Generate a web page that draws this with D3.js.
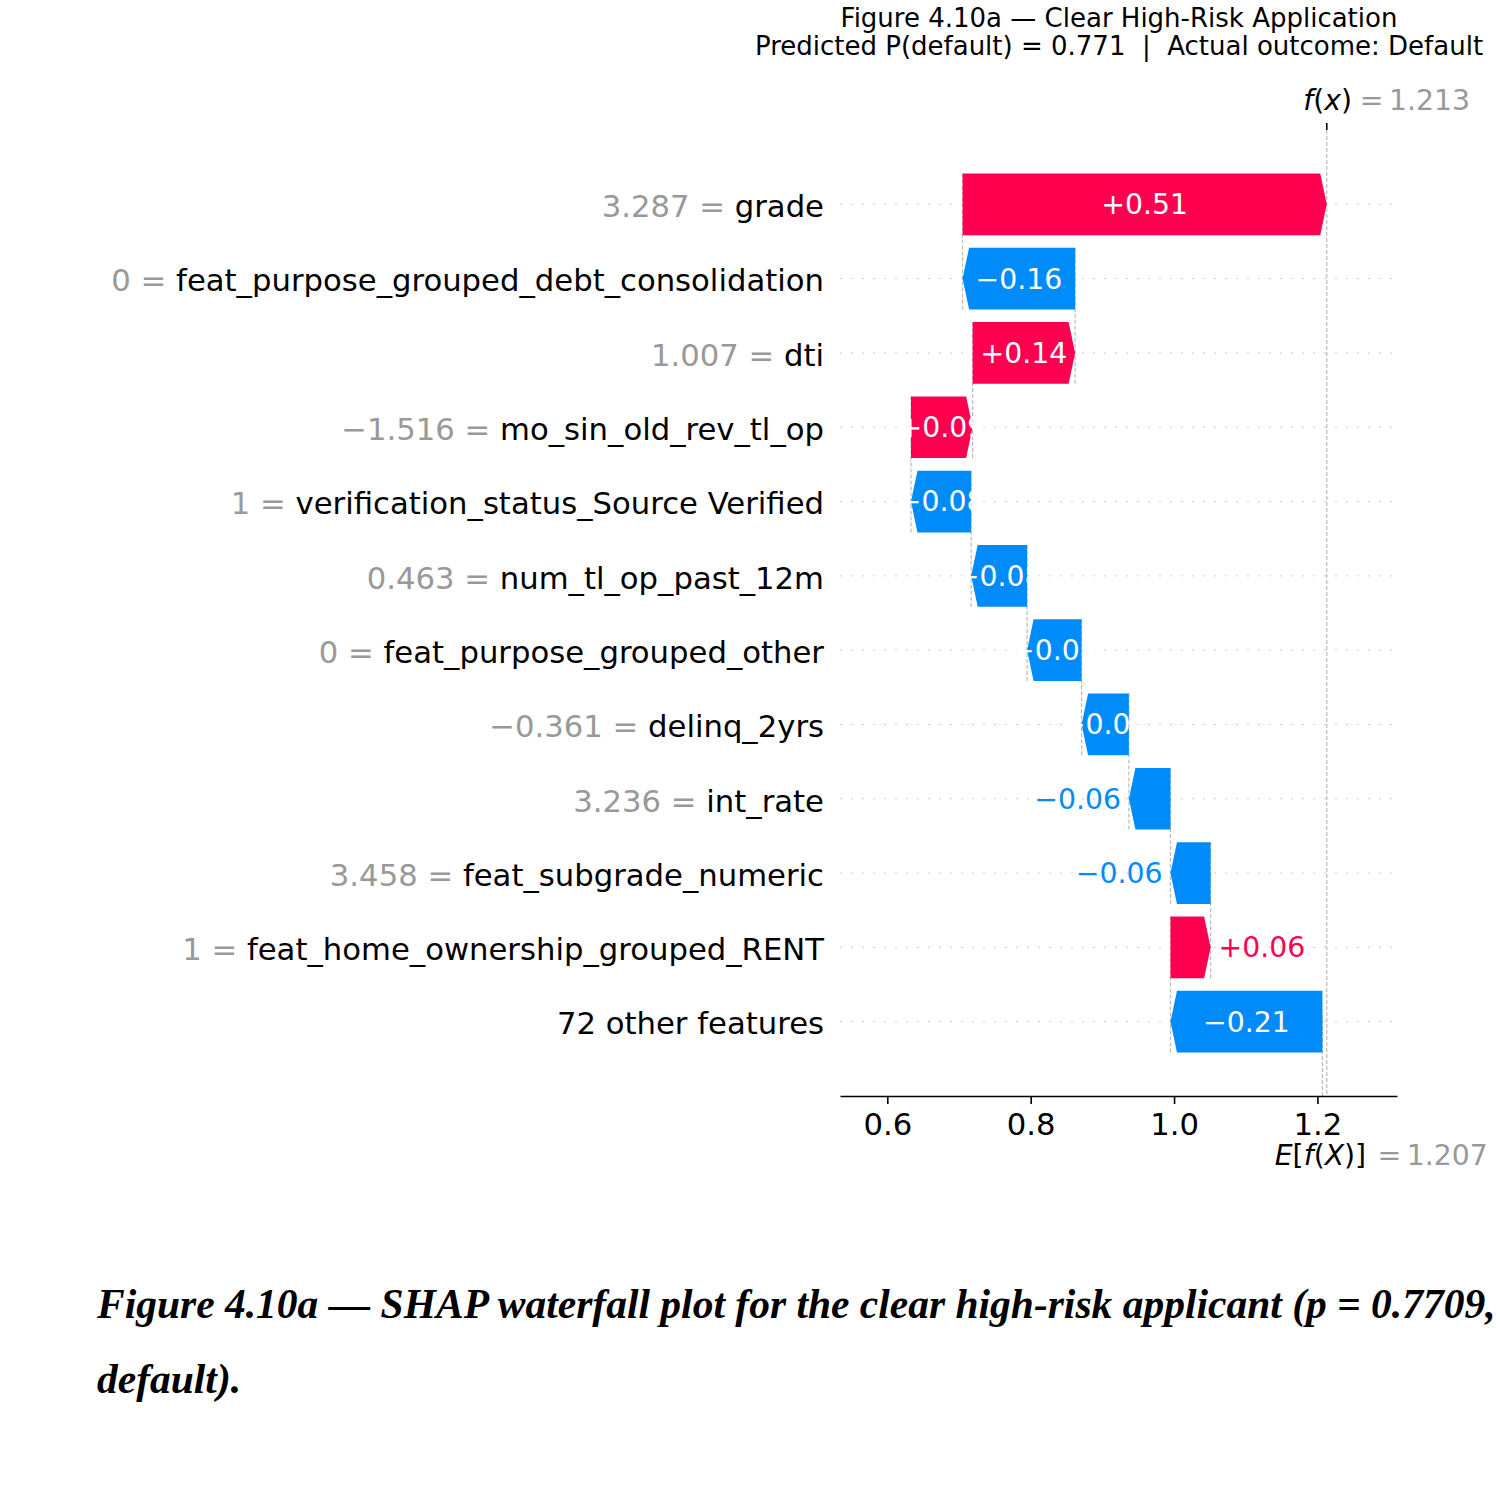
<!DOCTYPE html>
<html>
<head>
<meta charset="utf-8">
<script src="https://cdn.jsdelivr.net/npm/d3@7"></script>
<style>
    body { margin: 0; background: #fff; }
    svg text { font-family: "DejaVu Sans", sans-serif; }
    .caption { font-family: "Liberation Serif", "Times New Roman", serif; font-weight: bold; font-style: italic; }
</style>
</head>
<body>
<div id="shap-waterfall"></div>
<script>

// rows from top to bottom, as shap lists them
const featureNames = ["grade", "feat_purpose_grouped_debt_consolidation", "dti", "mo_sin_old_rev_tl_op",
    "verification_status_Source Verified", "num_tl_op_past_12m", "feat_purpose_grouped_other", "delinq_2yrs",
    "int_rate", "feat_subgrade_numeric", "feat_home_ownership_grouped_RENT", "72 other features"];
const featureValues = ["3.287", "0", "1.007", "\u22121.516", "1", "0.463", "0", "\u22120.361", "3.236", "3.458", "1", ""];
const shapValues = [0.508, -0.157, 0.143, 0.086, -0.084, -0.078, -0.076, -0.066, -0.058, -0.056, 0.056, -0.212];
const baseValue = 1.207;
const xTicks = [0.6, 0.8, 1.0, 1.2];
const titleLines = ["Figure 4.10a \u2014 Clear High-Risk Application",
    "Predicted P(default) = 0.771  |  Actual outcome: Default"];
const captionLines = ["Figure 4.10a \u2014 SHAP waterfall plot for the clear high-risk applicant (p = 0.7709,",
    "default)."];

const RED = "#ff0051", BLUE = "#008bfb";

class Waterfall {

    constructor(_parentElement) {
        this.parentElement = _parentElement;
        this.initVis();
    }

    initVis() {
        let vis = this;

        vis.margin = {top: 130, right: 103, bottom: 414, left: 840};
        vis.width = 1500 - vis.margin.left - vis.margin.right;
        vis.height = 1510 - vis.margin.top - vis.margin.bottom;

        vis.root = d3.select("#" + vis.parentElement).append("svg")
            .attr("width", 1500)
            .attr("height", 1510);

        vis.svg = vis.root.append("g")
            .attr("transform", `translate(${vis.margin.left}, ${vis.margin.top})`);

        // x in shap units, y in row units (0 = top row)
        vis.x = d3.scaleLinear()
            .domain([0.534, 1.311])
            .range([0, vis.width]);

        vis.y = d3.scaleLinear()
            .domain([-1, featureNames.length])
            .range([0, vis.height]);

        vis.rowH = vis.y(1) - vis.y(0);
        vis.barHalf = vis.rowH * 0.415;
        vis.headLen = 6.5;

        // titles
        vis.root.selectAll(".title")
            .data(titleLines)
            .enter()
            .append("text")
            .attr("class", "title")
            .attr("x", 1119)
            .attr("y", (d, i) => 27 + i * 28)
            .attr("text-anchor", "middle")
            .attr("font-size", 26)
            .style("white-space", "pre")
            .text(d => d);

        // caption under the figure
        vis.root.selectAll(".caption")
            .data(captionLines)
            .enter()
            .append("text")
            .attr("class", "caption")
            .attr("x", 97)
            .attr("y", (d, i) => 1318 + i * 75)
            .attr("font-size", 41.5)
            .text(d => d);

        vis.wrangleData();
    }

    wrangleData() {
        let vis = this;

        // walk up from the base value, bottom row first
        vis.displayData = [];
        let loc = baseValue;
        for (let i = shapValues.length - 1; i >= 0; i--) {
            let v = shapValues[i];
            vis.displayData[i] = {
                row: i,
                name: featureNames[i],
                value: featureValues[i],
                shap: v,
                start: loc,
                end: loc + v
            };
            loc += v;
        }
        vis.fx = loc;

        vis.updateVis();
    }

    updateVis() {
        let vis = this;

        // dotted row guides
        vis.svg.selectAll(".rowLine")
            .data(vis.displayData)
            .enter()
            .append("line")
            .attr("class", "rowLine")
            .attr("x1", 0)
            .attr("x2", vis.width)
            .attr("y1", d => vis.y(d.row))
            .attr("y2", d => vis.y(d.row))
            .attr("stroke", "#cccccc")
            .attr("stroke-width", 1)
            .attr("stroke-dasharray", "2,9");

        // f(x) line through the whole plot, E[f(X)] line only in the bottom row
        vis.svg.append("line")
            .attr("x1", vis.x(vis.fx))
            .attr("x2", vis.x(vis.fx))
            .attr("y1", 0)
            .attr("y2", vis.height)
            .attr("stroke", "#bbbbbb")
            .attr("stroke-width", 1.2)
            .attr("stroke-dasharray", "4,2");

        vis.svg.append("line")
            .attr("x1", vis.x(baseValue))
            .attr("x2", vis.x(baseValue))
            .attr("y1", vis.height)
            .attr("y2", vis.height - vis.height / featureNames.length)
            .attr("stroke", "#bbbbbb")
            .attr("stroke-width", 1.2)
            .attr("stroke-dasharray", "4,2");

        // connectors between consecutive bars
        vis.svg.selectAll(".connector")
            .data(vis.displayData.slice(0, -1))
            .enter()
            .append("line")
            .attr("class", "connector")
            .attr("x1", d => vis.x(d.start))
            .attr("x2", d => vis.x(d.start))
            .attr("y1", d => vis.y(d.row) - vis.barHalf)
            .attr("y2", d => vis.y(d.row + 1) + vis.barHalf)
            .attr("stroke", "#bbbbbb")
            .attr("stroke-width", 1.2)
            .attr("stroke-dasharray", "4,2");

        // arrow shaped bars
        vis.svg.selectAll(".bar")
            .data(vis.displayData)
            .enter()
            .append("polygon")
            .attr("class", "bar")
            .attr("fill", d => d.shap >= 0 ? RED : BLUE)
            .attr("points", d => {
                let s = vis.x(d.start), e = vis.x(d.end);
                let cy = vis.y(d.row), t = cy - vis.barHalf, b = cy + vis.barHalf;
                let dir = d.shap >= 0 ? 1 : -1;
                let h = Math.min(vis.headLen, Math.abs(e - s));
                let n = e - dir * h;
                return [[s, t], [n, t], [e, cy], [n, b], [s, b]].map(p => p.join(",")).join(" ");
            });

        // value labels: white inside, coloured outside when the bar is too short
        let fmt = v => (v >= 0 ? "+" : "\u2212") + Math.abs(v).toFixed(2);
        vis.svg.selectAll(".barText")
            .data(vis.displayData)
            .enter()
            .append("text")
            .attr("class", "barText")
            .attr("font-size", 28.3)
            .attr("dy", "0.35em")
            .attr("y", d => vis.y(d.row))
            .each(function(d) {
                let s = vis.x(d.start), e = vis.x(d.end);
                let inside = Math.abs(e - s) >= 45;
                let el = d3.select(this);
                if (inside) {
                    el.attr("x", (s + e) / 2).attr("text-anchor", "middle").attr("fill", "white");
                } else if (d.shap >= 0) {
                    el.attr("x", e + 8).attr("text-anchor", "start").attr("fill", RED);
                } else {
                    el.attr("x", e - 8).attr("text-anchor", "end").attr("fill", BLUE);
                }
            })
            .text(d => fmt(d.shap));

        // feature labels, value in grey then name in black
        let labels = vis.svg.selectAll(".yLabel")
            .data(vis.displayData)
            .enter()
            .append("text")
            .attr("class", "yLabel")
            .attr("x", -16)
            .attr("y", d => vis.y(d.row) + 2)
            .attr("dy", "0.35em")
            .attr("text-anchor", "end")
            .attr("font-size", 30.7);

        labels.append("tspan")
            .attr("fill", "#999999")
            .text(d => d.value === "" ? "" : d.value + " = ");

        labels.append("tspan")
            .attr("fill", "black")
            .text(d => d.name);

        // bottom axis
        vis.xAxis = d3.axisBottom(vis.x)
            .tickValues(xTicks)
            .tickFormat(d3.format(".1f"))
            .tickSize(8)
            .tickSizeOuter(0)
            .tickPadding(9.5);

        let ax = vis.svg.append("g")
            .attr("transform", `translate(0, ${vis.height})`)
            .call(vis.xAxis);
        ax.select(".domain").attr("stroke-width", 1.6);
        ax.selectAll(".tick line").attr("stroke-width", 1.6);
        ax.selectAll(".tick text")
            .attr("font-size", 30.7)
            .attr("font-family", "DejaVu Sans, sans-serif")
            .attr("fill", "black");

        // f(x) marker on top
        vis.svg.append("line")
            .attr("x1", vis.x(vis.fx))
            .attr("x2", vis.x(vis.fx))
            .attr("y1", 0)
            .attr("y2", -7)
            .attr("stroke", "black")
            .attr("stroke-width", 1.6);

        let fxText = vis.svg.append("text")
            .attr("x", vis.x(vis.fx) + 1)
            .attr("y", -20)
            .attr("text-anchor", "middle")
            .attr("font-size", 28.3);
        fxText.append("tspan").attr("font-style", "italic").text("f");
        fxText.append("tspan").text("(");
        fxText.append("tspan").attr("font-style", "italic").text("x");
        fxText.append("tspan").text(")");

        vis.svg.append("text")
            .attr("x", vis.x(vis.fx) + 33)
            .attr("y", -20)
            .attr("font-size", 28.3)
            .attr("fill", "#999999")
            .text("=\u2009" + vis.fx.toFixed(3));

        // E[f(X)] under the axis
        let eText = vis.svg.append("text")
            .attr("x", vis.x(baseValue) - 2)
            .attr("y", vis.height + 69)
            .attr("text-anchor", "middle")
            .attr("font-size", 28.3);
        eText.append("tspan").attr("font-style", "italic").text("E");
        eText.append("tspan").text("[");
        eText.append("tspan").attr("font-style", "italic").text("f");
        eText.append("tspan").text("(");
        eText.append("tspan").attr("font-style", "italic").text("X");
        eText.append("tspan").text(")]");

        vis.svg.append("text")
            .attr("x", vis.x(baseValue) + 55)
            .attr("y", vis.height + 69)
            .attr("font-size", 28.3)
            .attr("fill", "#999999")
            .text("=\u2009" + baseValue.toFixed(3));
    }
}

new Waterfall("shap-waterfall");

</script>
</body>
</html>
